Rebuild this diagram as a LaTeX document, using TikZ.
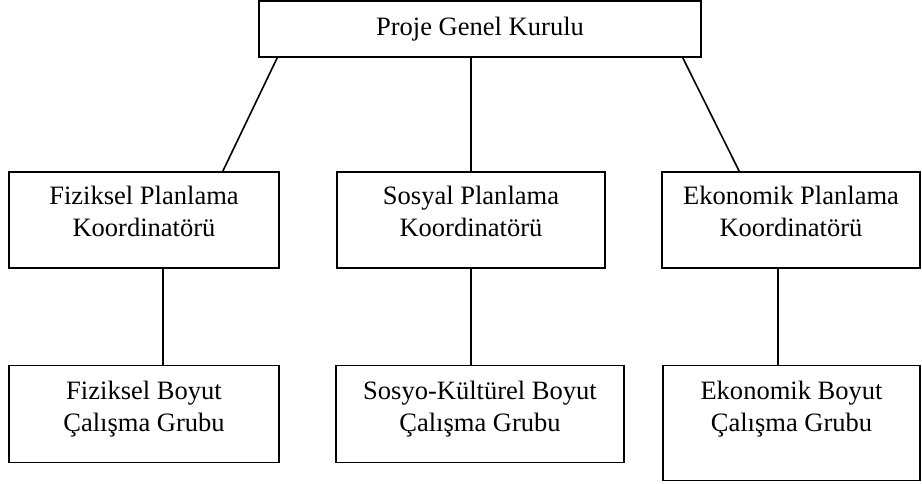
\documentclass[tikz,border=0pt]{standalone}
\usepackage{fontspec}
\setmainfont{Liberation Serif}
\usetikzlibrary{positioning}

\begin{document}
\begin{tikzpicture}[x=0.75pt,y=-0.75pt,
  font=\fontsize{19.9}{24}\selectfont,
  box/.style={draw,line width=1.2pt,align=center,inner sep=0pt},
  koord/.style={box,minimum height=72pt},
  grup/.style={box,minimum height=72.75pt},
  ln/.style={line width=1.2pt}]
\useasboundingbox (0,0) rectangle (922,483);
% --- kurul ---
\node[box,minimum width=331.5pt,minimum height=42pt] (kurul) at (480,29) {Proje Genel Kurulu};
% --- koordinatorler ---
\node[koord,minimum width=202.5pt] (fiz) at (144,220) {Fiziksel Planlama\\Koordinatörü\\[-11pt]\mbox{}};
\node[koord,minimum width=201pt] (sos) at (471,220) {Sosyal Planlama\\Koordinatörü\\[-11pt]\mbox{}};
\node[koord,minimum width=193.5pt] (eko) at (791,220) {Ekonomik Planlama\\Koordinatörü\\[-11pt]\mbox{}};
% --- calisma gruplari ---
\node[grup,minimum width=202.5pt,below=72pt of fiz] (fizb) {Fiziksel Boyut\\Çalışma Grubu\\[-13pt]\mbox{}};
\node[grup,minimum width=216pt,below=72pt of sos,xshift=6.75pt] (sosb) {Sosyo-Kültürel Boyut\\Çalışma Grubu\\[-13pt]\mbox{}};
\node[grup,minimum width=192.75pt,minimum height=86.25pt,below=72pt of eko,xshift=0.4pt] (ekob)
  {Ekonomik Boyut\\Çalışma Grubu\\[1pt]\mbox{}};
% --- baglantilar ---
\draw[ln] ([xshift=14.25pt]kurul.south west) -- ([xshift=-42.75pt]fiz.north east);
\draw[ln] (kurul.south -| sos.north) -- (sos.north);
\draw[ln] ([xshift=-14.25pt]kurul.south east) -- ([xshift=58.5pt]eko.north west);
\draw[ln] ([xshift=14.25pt]fiz.south) -- ([xshift=14.25pt]fiz.south |- fizb.north);
\draw[ln] (sos.south) -- (sos.south |- sosb.north);
\draw[ln] ([xshift=-9.75pt]eko.south) -- ([xshift=-9.75pt]eko.south |- ekob.north);
\end{tikzpicture}
\end{document}
